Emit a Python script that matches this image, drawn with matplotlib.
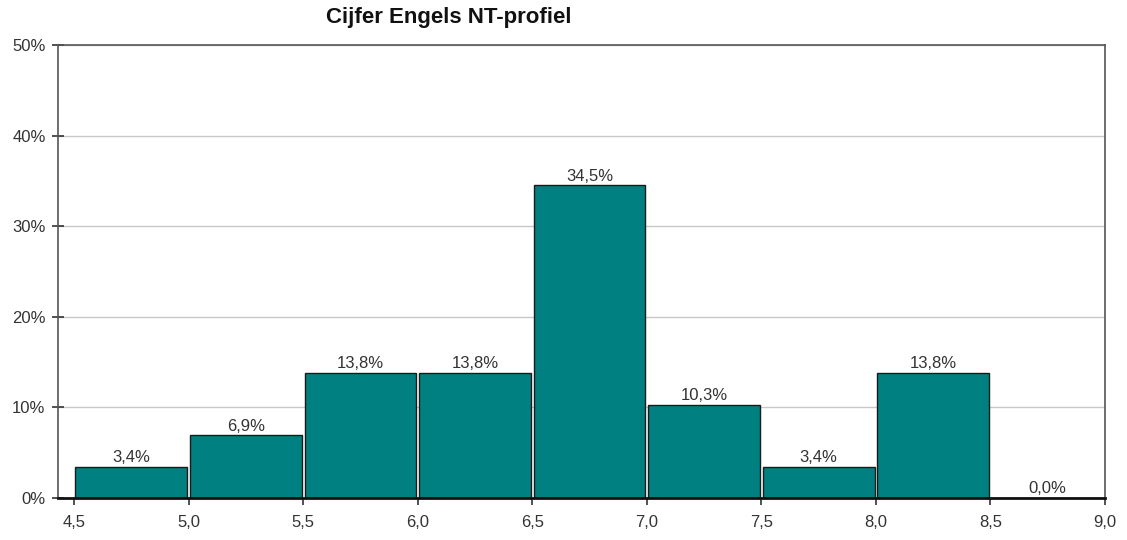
import matplotlib.pyplot as plt
import numpy as np

# Cijfer verdeling Engels, NT-profiel
bin_edges = [4.5, 5.0, 5.5, 6.0, 6.5, 7.0, 7.5, 8.0, 8.5]
percentages = [3.4, 6.9, 13.8, 13.8, 34.5, 10.3, 3.4, 13.8, 0.0]
x_ticks = [4.5, 5.0, 5.5, 6.0, 6.5, 7.0, 7.5, 8.0, 8.5, 9.0]
y_ticks = [0, 10, 20, 30, 40, 50]

plt.rcParams['font.family'] = ['Liberation Sans', 'DejaVu Sans']

fig = plt.figure(figsize=(11.27, 5.4), dpi=100)
ax = fig.add_axes([0.0515, 0.0778, 0.929, 0.8389])

bw = 0.5
gap = 0.012
ax.bar(np.array(bin_edges) + gap / 2, percentages, width=bw - gap, align='edge',
       color='#008080', edgecolor='#1a1a1a', linewidth=1.0, zorder=3)

for x0, p in zip(bin_edges, percentages):
    ax.text(x0 + bw / 2, p + 0.2, f'{p:.1f}%'.replace('.', ','),
            ha='center', va='bottom', fontsize=12, color='#333333', zorder=4)

ax.set_xlim(4.43, 9.0)
ax.set_ylim(0, 50)
ax.set_xticks(x_ticks)
ax.set_xticklabels([f'{t:.1f}'.replace('.', ',') for t in x_ticks])
ax.set_yticks(y_ticks)
ax.set_yticklabels([f'{t}%' for t in y_ticks])

ax.yaxis.grid(True, color='#c8c8c8', linewidth=1.0, zorder=0)
ax.set_axisbelow(True)

for side in ['left', 'top', 'right']:
    ax.spines[side].set_color('#555555')
    ax.spines[side].set_linewidth(1.2)
ax.spines['bottom'].set_color('#111111')
ax.spines['bottom'].set_linewidth(2.0)
ax.spines['bottom'].set_zorder(5)

ax.tick_params(axis='y', direction='inout', length=8, width=1.2, colors='#333333',
               labelsize=12, pad=5)
ax.tick_params(axis='x', direction='out', length=5, width=1.2, colors='#333333',
               labelsize=12, pad=7)

fig.text(0.398, 0.967, 'Cijfer Engels NT-profiel', ha='center', va='center',
         fontsize=16, fontweight='bold', color='#111111')

fig.savefig('out.png', dpi=100)
